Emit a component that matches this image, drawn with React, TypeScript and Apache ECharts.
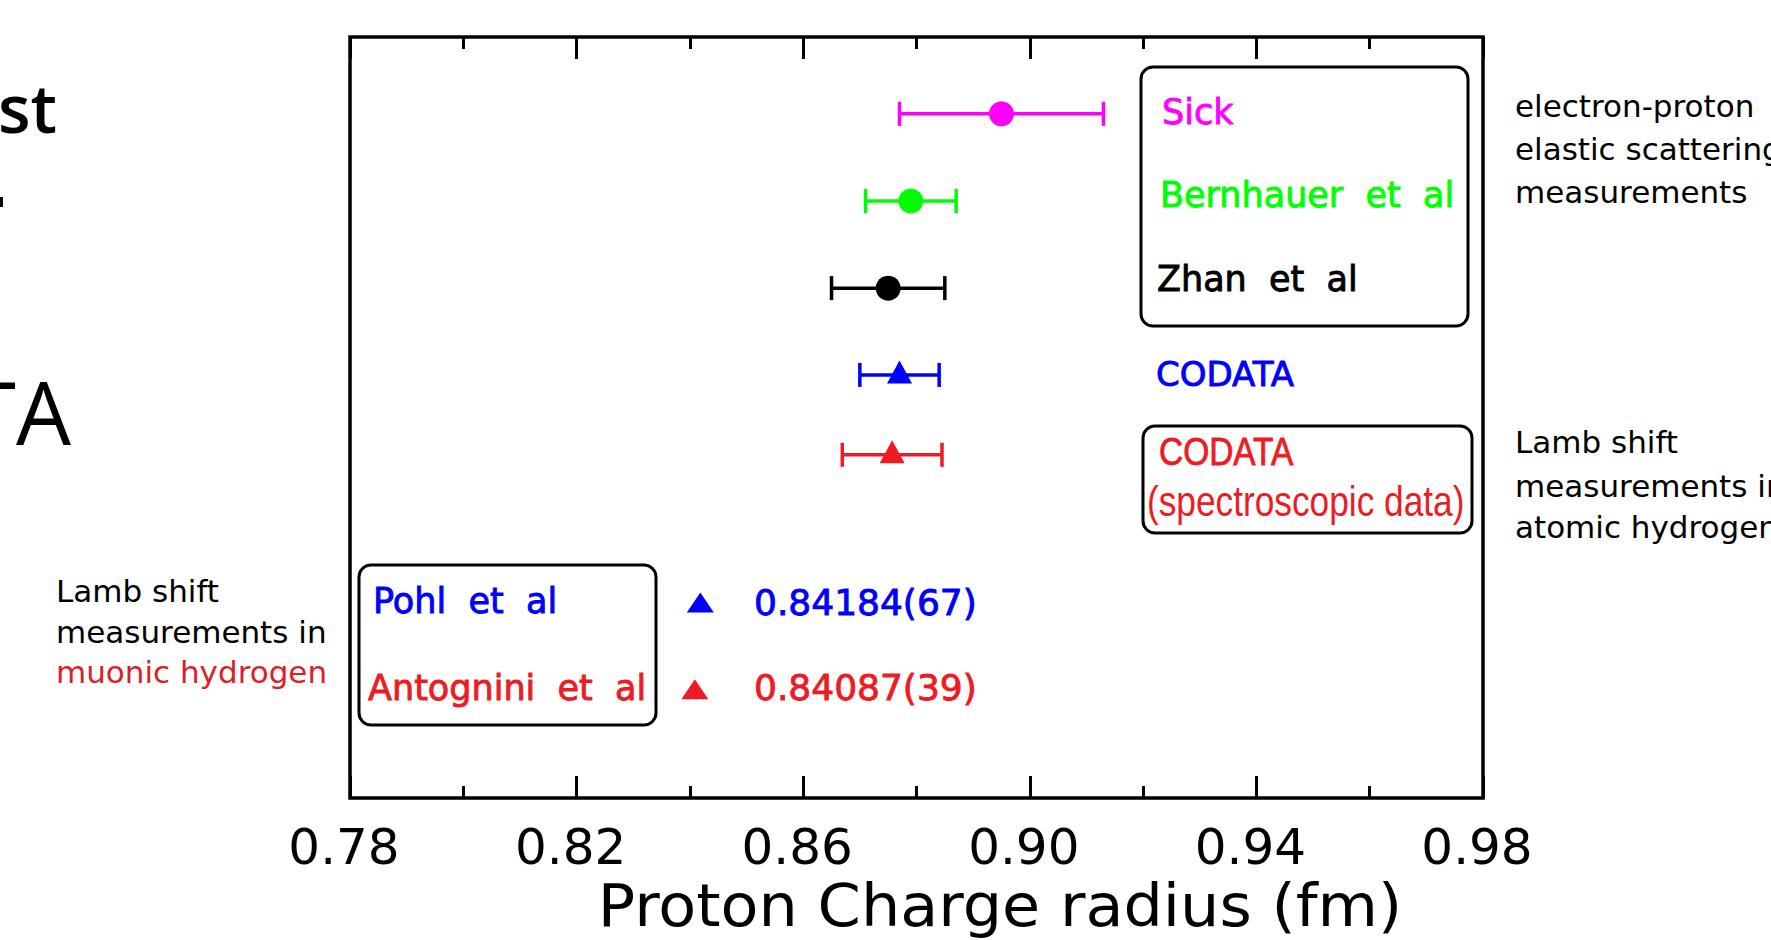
import React, { useEffect, useRef } from 'react';
import * as echarts from 'echarts';

// ---- data ----
const xMin = 0.78;
const xMax = 0.98;
const xStep = 0.04;
const epNames = ['Sick', 'Bernhauer  et  al', 'Zhan  et  al', 'CODATA', 'CODATA'];
const epRadius = [0.895, 0.879, 0.875, 0.877, 0.8757];
const epError = [0.018, 0.008, 0.010, 0.007, 0.0088];
const epRow = [89.9, 78.45, 67.0, 55.6, 45.1];
const epColors = ['#FF00FF', '#00FF00', '#000000', '#0000FF', '#ED1C24'];
const epSymbols = ['circle', 'circle', 'circle', 'triangle', 'triangle'];
const muNames = ['Pohl  et  al', 'Antognini  et  al'];
const muRadius = [0.84184, 0.84087];
const muLabels = ['0.84184(67)', '0.84087(39)'];
const muRow = [25.7, 14.3];
const muColors = ['#0000FF', '#ED1C24'];

const HFONT = 'DejaVu Sans';
const SFONT = 'DejaVu Sans';

function txt(text: string, x: number, y: number, size: number, color: string, extra: any = {}) {
  const style: any = {
    text,
    fontSize: size,
    fontFamily: extra.font ?? HFONT,
    fontWeight: extra.weight ?? 'normal',
    fill: color,
    align: extra.align ?? 'left',
    verticalAlign: 'middle',
  };
  if (extra.bold) {
    style.stroke = color;
    style.lineWidth = extra.bold;
  }
  return {
    type: 'text',
    x,
    y,
    scaleX: extra.scaleX ?? 1,
    scaleY: extra.scaleY ?? 1,
    style,
    z: 10,
  };
}

function box(x: number, y: number, w: number, h: number) {
  return {
    type: 'rect',
    shape: { x, y, width: w, height: h, r: 12 },
    style: { fill: 'none', stroke: '#000', lineWidth: 3 },
    z: 10,
  };
}

export default function App() {
  const ref = useRef<HTMLDivElement>(null);
  useEffect(() => {
    if (!ref.current) return;
    const chart = echarts.init(ref.current, null, { renderer: 'svg' });

    const axisCommon = {
      type: 'value',
      min: xMin,
      max: xMax,
      interval: xStep,
      axisLine: { show: false },
      splitLine: { show: false },
      minorSplitLine: { show: false },
      axisTick: { show: true, inside: true, length: 22, lineStyle: { color: '#000', width: 3 } },
      minorTick: { show: true, splitNumber: 2, length: 12, lineStyle: { color: '#000', width: 3 } },
    };

    const errData = epRadius.map((r, i) => [r - epError[i], r + epError[i], epRow[i]]);
    const epData = epRadius.map((r, i) => ({
      value: [r, epRow[i]],
      symbol: epSymbols[i],
      symbolSize: epSymbols[i] === 'circle' ? 25 : [25, 23],
      symbolOffset: epSymbols[i] === 'circle' ? [0, 0] : [0, -3],
      itemStyle: { color: epColors[i], opacity: 1 },
    }));
    const muData = muRadius.map((r, i) => ({
      value: [r, muRow[i]],
      itemStyle: { color: muColors[i], opacity: 1 },
    }));

    const B = 0.9;
    const graphic: any[] = [
      // slide fragments on the left
      txt('st', -2, 107, 67, '#000', { font: 'Open Sans', weight: 600 }),
      { type: 'rect', shape: { x: 0, y: 197, width: 3, height: 10 }, style: { fill: '#000' } },
      txt('TA', 71, 411, 87, '#000', { font: 'Open Sans', align: 'right' }),
      // boxes
      box(1141, 67, 327, 259),
      box(1143, 426, 329, 107),
      box(359, 565, 297, 160),
      // labels inside plot
      txt(epNames[0], 1162, 112, 35, epColors[0], { bold: B }),
      txt(epNames[1], 1160, 195, 35, epColors[1], { bold: B }),
      txt(epNames[2], 1157, 279, 35, epColors[2], { bold: B }),
      txt(epNames[3], 1156, 374, 34, epColors[3], { bold: B }),
      txt(epNames[4], 1159, 452, 38, epColors[4], { font: 'Liberation Sans', scaleX: 0.88, bold: 0.8 }),
      txt('(spectroscopic data)', 1147, 501, 43, epColors[4], { font: 'Liberation Sans', scaleX: 0.82 }),
      txt(muNames[0], 373, 601, 35, muColors[0], { bold: B }),
      txt(muNames[1], 368, 688, 35, muColors[1], { bold: B }),
      txt(muLabels[0], 754, 602, 36, muColors[0], { bold: B }),
      txt(muLabels[1], 754, 687, 36, muColors[1], { bold: B }),
      // axis title
      txt('Proton Charge radius (fm)', 1000, 906, 58, '#000', { align: 'center', scaleX: 1.07 }),
      // right annotations
      txt('electron-proton', 1515, 106, 31, '#000', { font: SFONT }),
      txt('elastic scattering', 1515, 149, 31, '#000', { font: SFONT }),
      txt('measurements', 1515, 192, 31, '#000', { font: SFONT }),
      txt('Lamb shift', 1515, 442, 31, '#000', { font: SFONT }),
      txt('measurements in', 1515, 486, 31, '#000', { font: SFONT }),
      txt('atomic hydrogen', 1515, 527, 31, '#000', { font: SFONT }),
      // left annotations
      txt('Lamb shift', 56, 591, 31, '#000', { font: SFONT }),
      txt('measurements in', 56, 632, 31, '#000', { font: SFONT }),
      txt('muonic hydrogen', 56, 672, 31, '#DC1F26', { font: SFONT }),
    ];

    chart.setOption({
      animation: false,
      backgroundColor: '#fff',
      grid: {
        left: 350,
        top: 37,
        width: 1133,
        height: 761,
        show: true,
        borderColor: '#000',
        borderWidth: 3.5,
        containLabel: false,
      },
      xAxis: [
        {
          ...axisCommon,
          position: 'bottom',
          axisLabel: {
            show: true,
            fontSize: 50,
            fontFamily: HFONT,
            color: '#000',
            margin: 24,
            padding: [0, 12, 0, 0],
            formatter: (v: number) => v.toFixed(2),
          },
        },
        {
          ...axisCommon,
          position: 'top',
          axisLabel: { show: false },
        },
      ],
      yAxis: { type: 'value', min: 0, max: 100, show: false },
      series: [
        {
          type: 'custom',
          xAxisIndex: 0,
          encode: { x: [0, 1], y: 2 },
          data: errData,
          renderItem: (params: any, api: any) => {
            const y = api.value(2);
            const lo = api.coord([api.value(0), y]);
            const hi = api.coord([api.value(1), y]);
            const style = { stroke: epColors[params.dataIndex], lineWidth: 3.5, fill: 'none' };
            const h = 12;
            return {
              type: 'group',
              children: [
                { type: 'line', shape: { x1: lo[0], y1: lo[1], x2: hi[0], y2: hi[1] }, style },
                { type: 'line', shape: { x1: lo[0], y1: lo[1] - h, x2: lo[0], y2: lo[1] + h }, style },
                { type: 'line', shape: { x1: hi[0], y1: hi[1] - h, x2: hi[0], y2: hi[1] + h }, style },
              ],
            };
          },
          z: 2,
        },
        {
          type: 'scatter',
          data: epData,
          z: 3,
        },
        {
          type: 'scatter',
          symbol: 'triangle',
          symbolSize: [27, 20],
          data: muData,
          z: 3,
        },
      ],
      graphic,
    });
    return () => chart.dispose();
  }, []);
  return (
    <div
      ref={ref}
      style={{ position: 'fixed', left: 0, top: 0, width: 1771, height: 940, background: '#fff' }}
    />
  );
}
